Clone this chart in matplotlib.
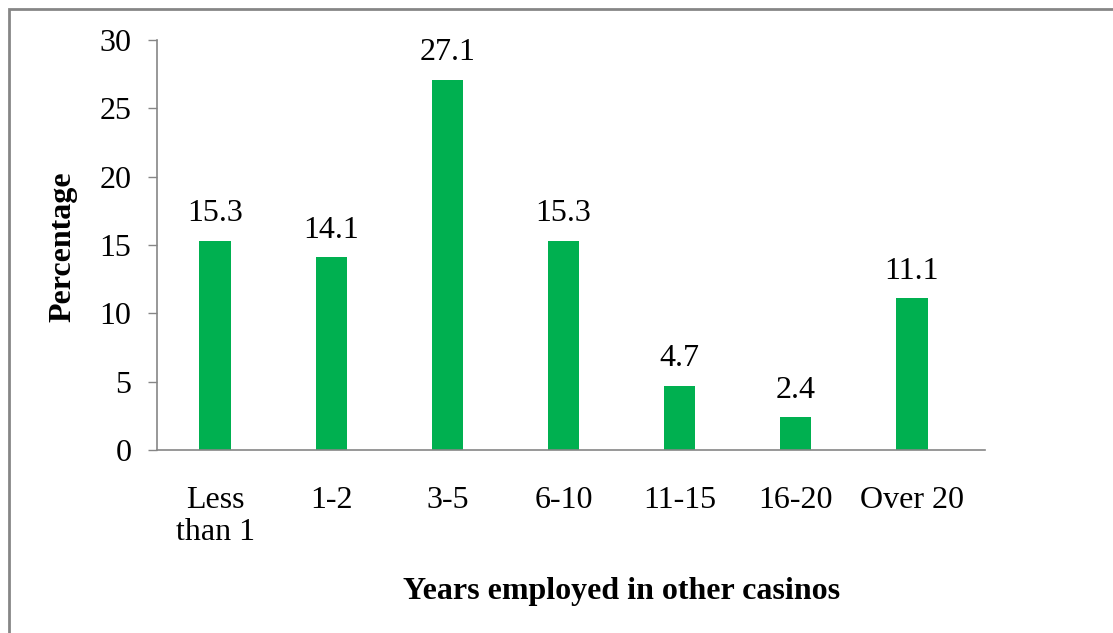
import matplotlib.pyplot as plt
from matplotlib.patches import Rectangle

# Years employed in other casinos (percentage of respondents)
categories = ["Less\nthan 1", "1-2", "3-5", "6-10", "11-15", "16-20", "Over 20"]
percentages = [15.3, 14.1, 27.1, 15.3, 4.7, 2.4, 11.1]
yticks = [0, 5, 10, 15, 20, 25, 30]

plt.rcParams['font.family'] = ['Liberation Serif', 'DejaVu Serif']

W, H = 1113, 633
fig = plt.figure(figsize=(W / 100, H / 100), dpi=100)
ax = fig.add_axes([157 / W, (H - 450) / H, (985 - 157) / W, (450 - 40) / H])

x = list(range(len(categories)))
ax.bar(x, percentages, width=0.27, color='#00B050')

for xi, v in zip(x, percentages):
    ax.annotate(f"{v}", (xi, v), xytext=(0, 19.5), textcoords='offset points',
                ha='center', va='center', fontsize=23)

ax.set_xlim(-0.5, 6.63)
ax.set_ylim(0, 30)
ax.set_yticks(yticks)
ax.set_xticks(x)
ax.set_xticklabels(categories, linespacing=1.15)

ax.tick_params(axis='y', labelsize=23, length=6.5, width=1, color='#868686', pad=12)
ax.tick_params(axis='x', labelsize=23, length=0, pad=26)
for side in ['top', 'right']:
    ax.spines[side].set_visible(False)
for side in ['left', 'bottom']:
    ax.spines[side].set_color('#868686')
    ax.spines[side].set_linewidth(1.2)

fig.text(63 / W, 1 - 247 / H, "Percentage", rotation=90, ha='center', va='center',
         fontsize=23, fontweight='bold')
fig.text(622 / W, 1 - 592 / H, "Years employed in other casinos", ha='center', va='center',
         fontsize=23, fontweight='bold')

# outer chart frame
fig.patches.append(Rectangle((9 / W, -0.1), 1.2, 1.1 - 9 / H, transform=fig.transFigure,
                             fill=False, edgecolor='#868686', linewidth=2))

fig.savefig("out.png", dpi=100)
